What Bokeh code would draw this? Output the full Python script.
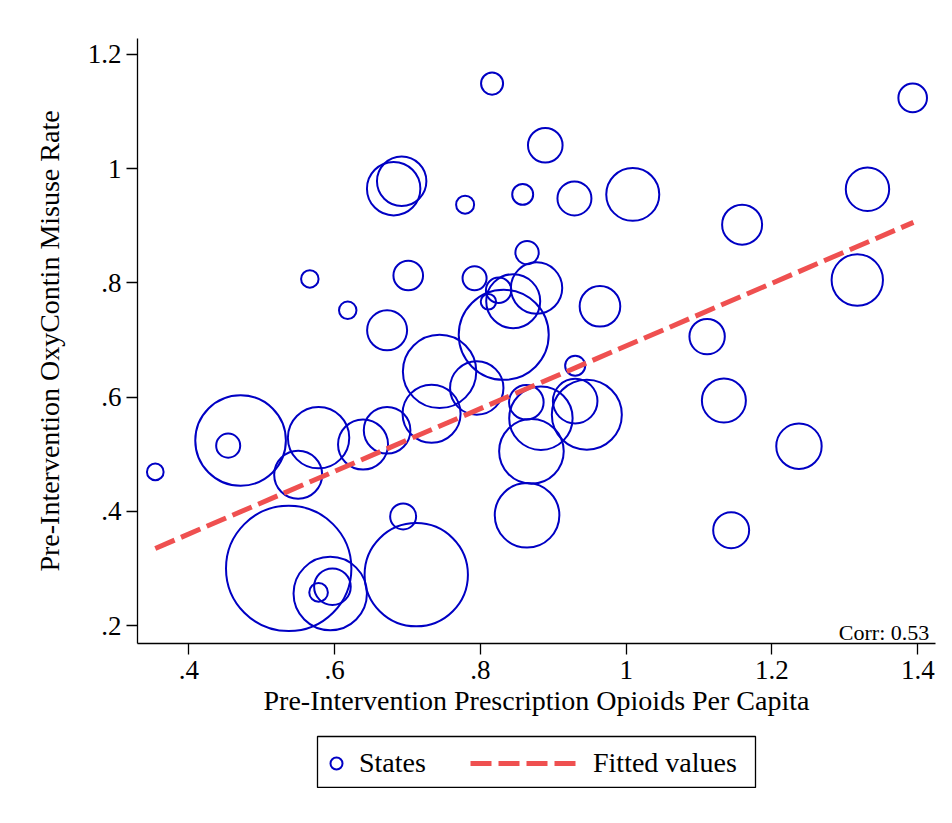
import numpy as np
from bokeh.plotting import figure
from bokeh.models import Range1d, FixedTicker, Label, Legend, LegendItem, ColumnDataSource
from bokeh.layouts import column
from bokeh.embed import file_html
from bokeh.resources import INLINE

# ---------------- data ----------------
opioids_pc = [0.354, 0.454, 0.471, 0.550, 0.566, 0.618, 0.578, 0.639, 0.672, 0.672,
              0.701, 0.694, 0.537, 0.594, 0.597, 0.578, 0.712, 0.692, 0.681, 0.779,
              0.792, 0.816, 0.744, 0.795, 0.733, 0.811, 0.825, 0.845, 0.832, 0.877,
              0.864, 0.858, 0.889, 0.929, 0.930, 0.863, 0.883, 0.870, 0.864, 0.930,
              0.946, 0.964, 1.009, 1.111, 1.159, 1.134, 1.144, 1.237, 1.331, 1.317,
              1.393]
oxy_misuse = [0.469, 0.515, 0.524, 0.464, 0.807, 0.752, 0.529, 0.517, 0.542, 0.717,
              0.813, 0.391, 0.300, 0.256, 0.268, 0.258, 0.289, 0.978, 0.965, 0.937,
              0.808, 1.149, 0.645, 0.616, 0.571, 0.767, 0.787, 0.768, 0.709, 0.791,
              0.853, 0.955, 1.041, 0.948, 0.655, 0.591, 0.563, 0.505, 0.393, 0.593,
              0.569, 0.759, 0.955, 0.706, 0.902, 0.594, 0.367, 0.514, 0.964, 0.805,
              1.124]
population = [0.60, 1.25, 17.76, 4.98, 0.66, 0.66, 8.15, 5.41, 4.70, 3.46,
              1.90, 1.46, 34.0, 11.65, 2.90, 0.75, 23.1, 5.28, 6.17, 0.70,
              1.25, 1.05, 11.65, 6.17, 7.28, 0.51, 1.40, 6.31, 17.52, 5.71,
              1.18, 0.95, 2.59, 2.50, 0.87, 2.59, 8.70, 9.03, 9.03, 4.30,
              10.60, 3.57, 6.08, 2.71, 3.46, 4.19, 2.80, 4.46, 4.07, 5.71,
              1.77]
fit_x = [0.354, 1.394]
fit_y = [0.335, 0.906]
x_ticks = [0.4, 0.6, 0.8, 1.0, 1.2, 1.4]
x_tick_labels = [".4", ".6", ".8", "1", "1.2", "1.4"]
y_ticks = [0.2, 0.4, 0.6, 0.8, 1.0, 1.2]
y_tick_labels = [".2", ".4", ".6", ".8", "1", "1.2"]
corr_text = "Corr: 0.53"
x_title = "Pre-Intervention Prescription Opioids Per Capita"
y_title = "Pre-Intervention OxyContin Misuse Rate"
legend_labels = ["States", "Fitted values"]

# ---------------- style ----------------
FONT = "Liberation Serif"
BLUE = "#0000C4"
RED = "#EF5050"
X_START, X_END = 0.3296, 1.4243
Y_START, Y_END = 0.1685, 1.228
SIZE_SCALE = 21.5

src = ColumnDataSource(dict(
    x=opioids_pc, y=oxy_misuse,
    size=list(SIZE_SCALE * np.sqrt(np.array(population))),
))

p = figure(width=952, height=730, output_backend="svg", toolbar_location=None,
           x_range=Range1d(X_START, X_END), y_range=Range1d(Y_START, Y_END),
           min_border_left=137, min_border_right=17, min_border_top=38,
           min_border_bottom=87)
p.outline_line_color = None
p.grid.visible = False
p.background_fill_color = "white"
p.border_fill_color = "white"

p.scatter("x", "y", source=src, size="size", marker="circle", fill_color=None,
          line_color=BLUE, line_width=2)
p.line(fit_x, fit_y, line_color=RED, line_width=5, line_dash="21 7")

p.xaxis.ticker = FixedTicker(ticks=x_ticks)
p.yaxis.ticker = FixedTicker(ticks=y_ticks)
p.xaxis.major_label_overrides = {t: l for t, l in zip(x_ticks, x_tick_labels)}
p.yaxis.major_label_overrides = {t: l for t, l in zip(y_ticks, y_tick_labels)}
p.xaxis.axis_label = x_title
p.yaxis.axis_label = y_title
for ax in (p.xaxis[0], p.yaxis[0]):
    ax.axis_line_width = 1.3
    ax.axis_line_color = "black"
    ax.major_tick_line_width = 1.3
    ax.major_tick_line_color = "black"
    ax.major_tick_out = 11
    ax.major_tick_in = 0
    ax.minor_tick_out = 0
    ax.minor_tick_in = 0
    ax.major_label_text_font = FONT
    ax.major_label_text_font_size = "27px"
    ax.major_label_text_color = "black"
    ax.axis_label_text_font = FONT
    ax.axis_label_text_font_size = "28px"
    ax.axis_label_text_font_style = "normal"
    ax.axis_label_text_color = "black"
p.xaxis.major_label_standoff = 6
p.yaxis.major_label_standoff = 5
p.yaxis.major_label_orientation = "horizontal"
p.xaxis.axis_label_standoff = 3
p.yaxis.axis_label_standoff = 20

p.add_layout(Label(x=X_END - 0.0085, y=0.1877, text=corr_text, text_align="right",
                   text_baseline="alphabetic", text_font=FONT, text_font_size="22px",
                   text_color="black"))

# ---------------- legend box (separate strip below the plot) ----------------
# In a column, Bokeh aligns the frames, so this strip inherits the 137/17 px
# side borders of the main plot; its frame (the legend box) is 438 px wide.
lf = figure(width=592, height=53, output_backend="svg", toolbar_location=None,
            x_range=Range1d(0, 1), y_range=Range1d(0, 1),
            x_axis_type=None, y_axis_type=None, min_border=1)
lf.grid.visible = False
lf.outline_line_color = "black"
lf.outline_line_width = 1.3
lf.margin = (5, 0, 0, 180)
r_states = lf.scatter(x=[np.nan], y=[np.nan], marker="circle", size=12, fill_color=None,
                      line_color=BLUE, line_width=2)
r_fit = lf.line(x=[np.nan, np.nan], y=[np.nan, np.nan], line_color=RED, line_width=5,
                line_dash="21 7")

common = dict(orientation="horizontal", padding=0, margin=0, spacing=0,
              border_line_color=None, background_fill_alpha=0,
              label_text_font=FONT, label_text_font_size="28px",
              label_text_color="black", glyph_height=32, label_height=32)
leg_a = Legend(items=[LegendItem(label=legend_labels[0], renderers=[r_states])],
               location=(4, 8), glyph_width=30, label_standoff=8, **common)
leg_b = Legend(items=[LegendItem(label=legend_labels[1], renderers=[r_fit])],
               location=(153, 8), glyph_width=107, label_standoff=16, **common)
lf.add_layout(leg_a)
lf.add_layout(leg_b)

layout = column(p, lf)
open("out.html", "w").write(file_html(layout, INLINE))
